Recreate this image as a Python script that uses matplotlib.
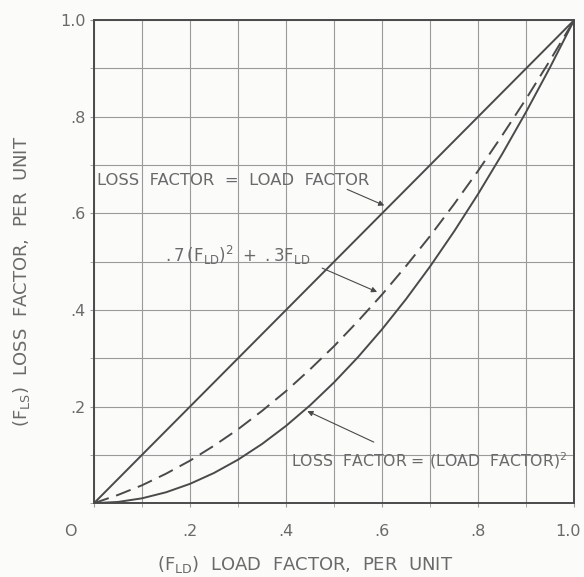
import matplotlib.pyplot as plt
from matplotlib.transforms import ScaledTranslation

# load factor (per unit) at which the curves were read
load = [0.0, 0.05, 0.1, 0.15, 0.2, 0.25, 0.3, 0.35, 0.4, 0.45, 0.5,
        0.55, 0.6, 0.65, 0.7, 0.75, 0.8, 0.85, 0.9, 0.95, 1.0]
# loss factor = load factor
loss_equal = [0.0, 0.05, 0.1, 0.15, 0.2, 0.25, 0.3, 0.35, 0.4, 0.45, 0.5,
              0.55, 0.6, 0.65, 0.7, 0.75, 0.8, 0.85, 0.9, 0.95, 1.0]
# .7 (F_LD)^2 + .3 F_LD  (dashed)
loss_mixed = [0.0, 0.017, 0.037, 0.061, 0.088, 0.119, 0.153, 0.191, 0.232, 0.277, 0.325,
              0.377, 0.432, 0.491, 0.553, 0.619, 0.688, 0.761, 0.837, 0.917, 1.0]
# loss factor = (load factor)^2
loss_square = [0.0, 0.0025, 0.01, 0.0225, 0.04, 0.0625, 0.09, 0.1225, 0.16, 0.2025, 0.25,
               0.3025, 0.36, 0.4225, 0.49, 0.5625, 0.64, 0.7225, 0.81, 0.9025, 1.0]

xticks = [0, 0.2, 0.4, 0.6, 0.8, 1.0]
xtick_labels = ['O', '.2', '.4', '.6', '.8', '1.0']
yticks = [0.2, 0.4, 0.6, 0.8, 1.0]
ytick_labels = ['.2', '.4', '.6', '.8', '1.0']

ink = '#4a4a4a'
txt = '#6a6a6a'

fig = plt.figure(figsize=(5.84, 5.77), dpi=100)
fig.patch.set_facecolor('#fbfbf9')
ax = fig.add_axes([0.161, 0.128, 0.822, 0.837])
ax.set_facecolor('#fbfbf9')

ax.plot(load, loss_equal, color=ink, lw=1.4)
ax.plot(load, loss_mixed, color=ink, lw=1.4, dashes=(8, 4))
ax.plot(load, loss_square, color=ink, lw=1.4)

ax.set_xlim(0, 1)
ax.set_ylim(0, 1)
ax.set_xticks([i / 10 for i in range(11)], minor=True)
ax.set_yticks([i / 10 for i in range(11)], minor=True)
ax.set_xticks(xticks)
ax.set_xticklabels(xtick_labels)
ax.set_yticks(yticks)
ax.set_yticklabels(ytick_labels)
ax.grid(True, which='both', color='#9a9a9a', lw=0.8)
ax.tick_params(which='both', length=3, color='#9a9a9a', labelcolor=txt, labelsize=11.5)
ax.tick_params(axis='x', pad=12)
ax.tick_params(axis='y', pad=3)
# the "0" of the load axis sits left of the corner, the "1.0" is pulled in a bit
xl = ax.get_xticklabels()
xl[0].set_transform(xl[0].get_transform() + ScaledTranslation(-0.24, 0, fig.dpi_scale_trans))
xl[-1].set_transform(xl[-1].get_transform() + ScaledTranslation(-0.06, 0, fig.dpi_scale_trans))
for s in ax.spines.values():
    s.set_color(ink)
    s.set_linewidth(1.4)

ax.set_xlabel(r'$\mathregular{(F_{LD})}$  LOAD  FACTOR,  PER  UNIT',
              color=txt, fontsize=13)
ax.xaxis.set_label_coords(0.44, -0.105)
ax.set_ylabel(r'$\mathregular{(F_{LS})}$  LOSS  FACTOR,  PER  UNIT',
              color=txt, fontsize=13)
ax.yaxis.set_label_coords(-0.13, 0.46)

arrow = dict(arrowstyle='-|>', color=ink, lw=0.8, mutation_scale=8)
ax.text(0.006, 0.669, 'LOSS  FACTOR  =  LOAD  FACTOR', color=txt,
        fontsize=11.8, va='center')
ax.annotate('', xy=(0.61, 0.614), xytext=(0.522, 0.652), arrowprops=arrow)

ax.text(0.148, 0.513, r'$\mathregular{.7\,(F_{LD})^2\ +\ .3F_{LD}}$', color=txt,
        fontsize=12, va='center')
ax.annotate('', xy=(0.595, 0.435), xytext=(0.47, 0.489), arrowprops=arrow)

ax.text(0.41, 0.089, r'LOSS  FACTOR = (LOAD  FACTOR)$\mathregular{^2}$', color=txt,
        fontsize=11.3, va='center')
ax.annotate('', xy=(0.439, 0.193), xytext=(0.588, 0.124), arrowprops=arrow)

fig.savefig('out.png', dpi=100, facecolor=fig.get_facecolor())
